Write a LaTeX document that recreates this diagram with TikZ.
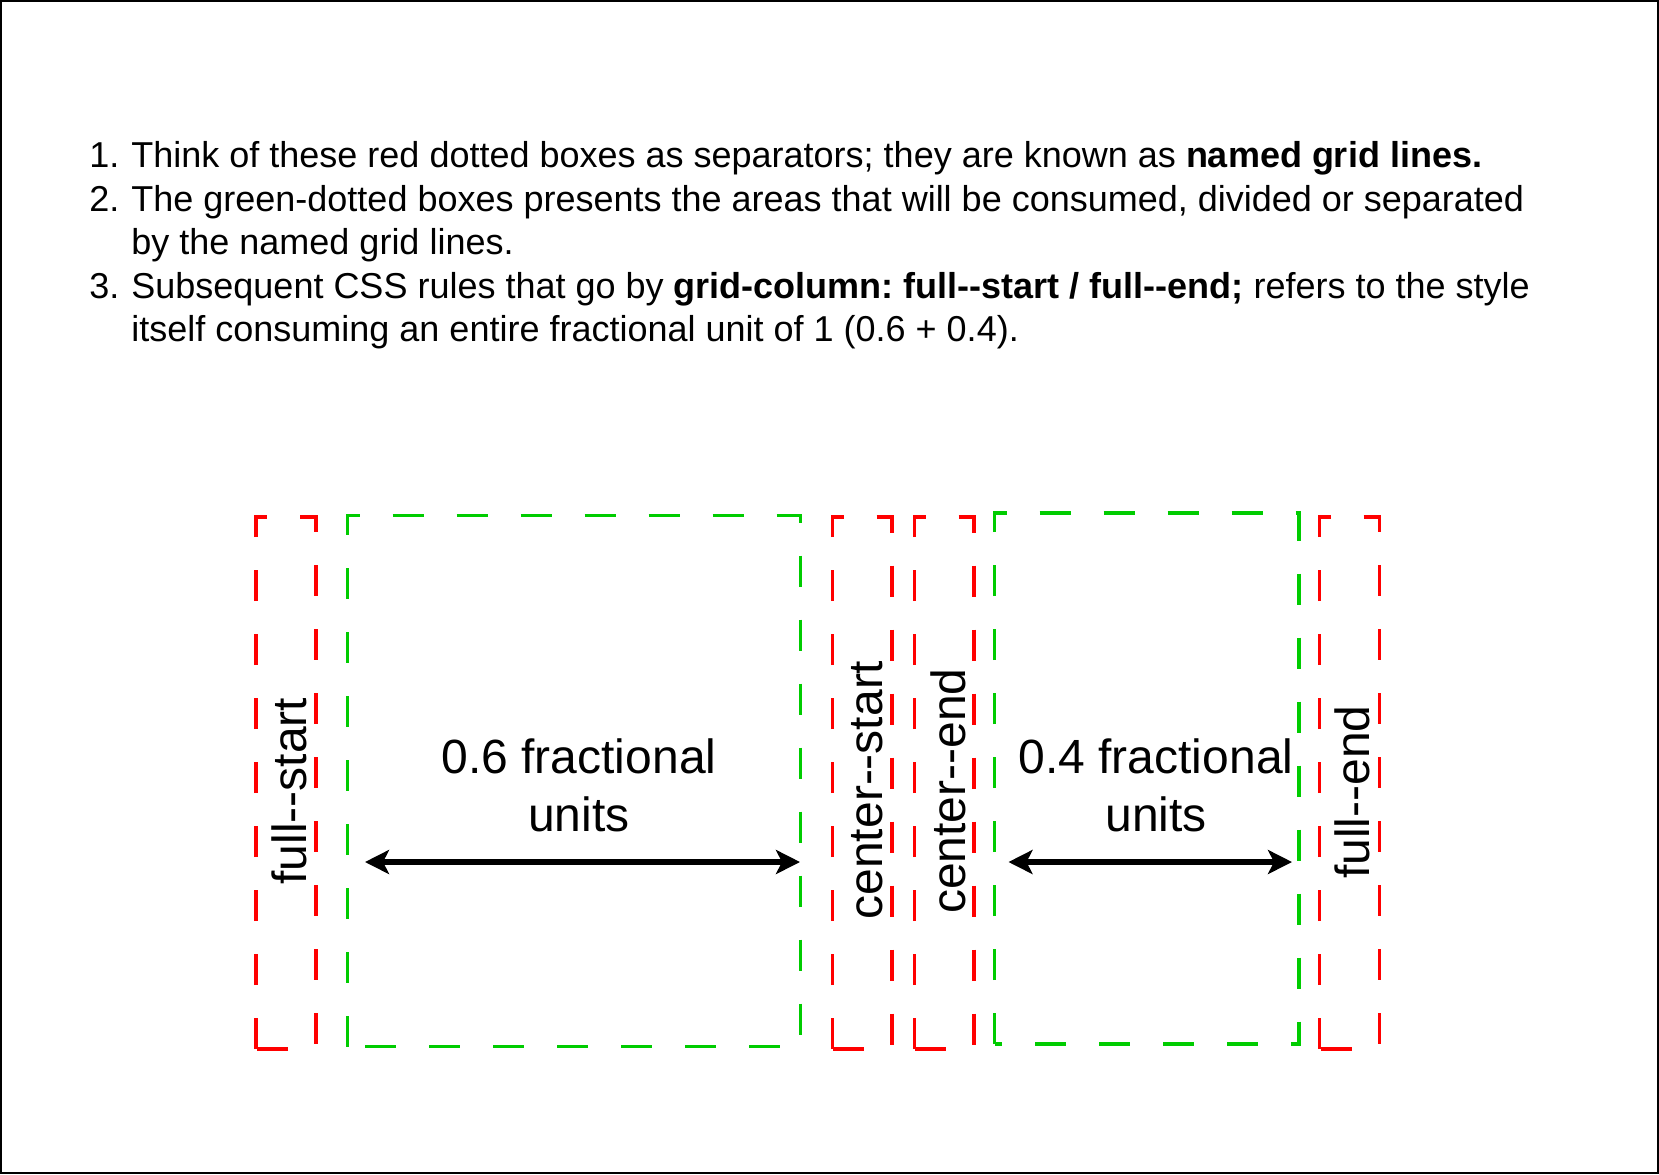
\documentclass[tikz,border=0pt]{standalone}
\usepackage{fontspec}
\setmainfont{Liberation Sans}[Ligatures=TeXOff]
\usetikzlibrary{arrows.meta}
\frenchspacing
\definecolor{gaRed}{HTML}{FF0000}
\definecolor{gaGreen}{HTML}{00CC00}
\tikzset{
  gridbox/.style={line width=1.75pt, dash pattern=on 15.5pt off 16.5pt},
  sepbox/.style={gridbox, draw=gaRed},
  areabox/.style={gridbox, draw=gaGreen},
  span/.style={
    {Stealth[length=12pt, width=12pt, inset=3pt]}-{Stealth[length=12pt, width=12pt, inset=3pt]},
    line width=2.75pt, draw=black
  },
  listtxt/.style={anchor=base west, inner sep=0pt, font=\fontsize{18}{21.6}\selectfont},
  vlabel/.style={rotate=90, anchor=base, inner sep=0pt, font=\fontsize{24}{28.8}\selectfont},
  unitlbl/.style={align=center, inner sep=0pt, font=\fontsize{24}{28.8}\selectfont},
}
\begin{document}
\begin{tikzpicture}[x=0.5pt, y=-0.5pt]
  \useasboundingbox (0,0) rectangle (1659,1174);
  \draw[line width=1pt] (1,1) rectangle (1658,1173);

  % notes
  \node[listtxt] (num1) at (89,167) {1.};
  \node[listtxt] (note1) at (131,167) {Think of these red dotted boxes as separators; they are known as \textbf{named grid lines.}};
  \node[listtxt] (num2) at (89,211) {2.};
  \node[listtxt] (note2a) at (131,211) {The green-dotted boxes presents the areas that will be consumed, divided or separated};
  \node[listtxt] (note2b) at (131,254) {by the named grid lines.};
  \node[listtxt] (num3) at (89,298) {3.};
  \node[listtxt] (note3a) at (131,298) {Subsequent CSS rules that go by \textbf{grid-column: full--start / full--end;} refers to the style};
  \node[listtxt] (note3b) at (131,341) {itself consuming an entire fractional unit of 1 (0.6 + 0.4).};

  % named grid lines (red) and areas (green)
  \draw[sepbox] (256,1049) |- (316,517) |- cycle;
  \draw[areabox] (347.5,1046.5) |- (800.5,515.5) |- cycle;
  \draw[sepbox] (832.5,1049) |- (892,517) |- cycle;
  \draw[sepbox] (914.5,1049) |- (974,517) |- cycle;
  \draw[areabox] (994.5,1044) |- (1299,513) |- cycle;
  \draw[sepbox] (1319.5,1049) |- (1379.5,517) |- cycle;

  \node[vlabel] (lblfullstart) at (306,791) {full--start};
  \node[vlabel] (lblcenterstart) at (882,790) {center--start};
  \node[vlabel] (lblcenterend) at (965,791) {center--end};
  \node[vlabel] (lblfullend) at (1369,792) {full--end};

  \node[unitlbl] (wide) at (579,785.5) {0.6 fractional\\units};
  \node[unitlbl] (narrow) at (1156,785.5) {0.4 fractional\\units};

  \coordinate (wideL) at (365,862);
  \coordinate (wideR) at (800,862);
  \coordinate (narrowL) at (1008.5,862);
  \coordinate (narrowR) at (1292,862);
  \draw[span] (wideL) -- (wideR);
  \draw[span] (narrowL) -- (narrowR);
\end{tikzpicture}
\end{document}
